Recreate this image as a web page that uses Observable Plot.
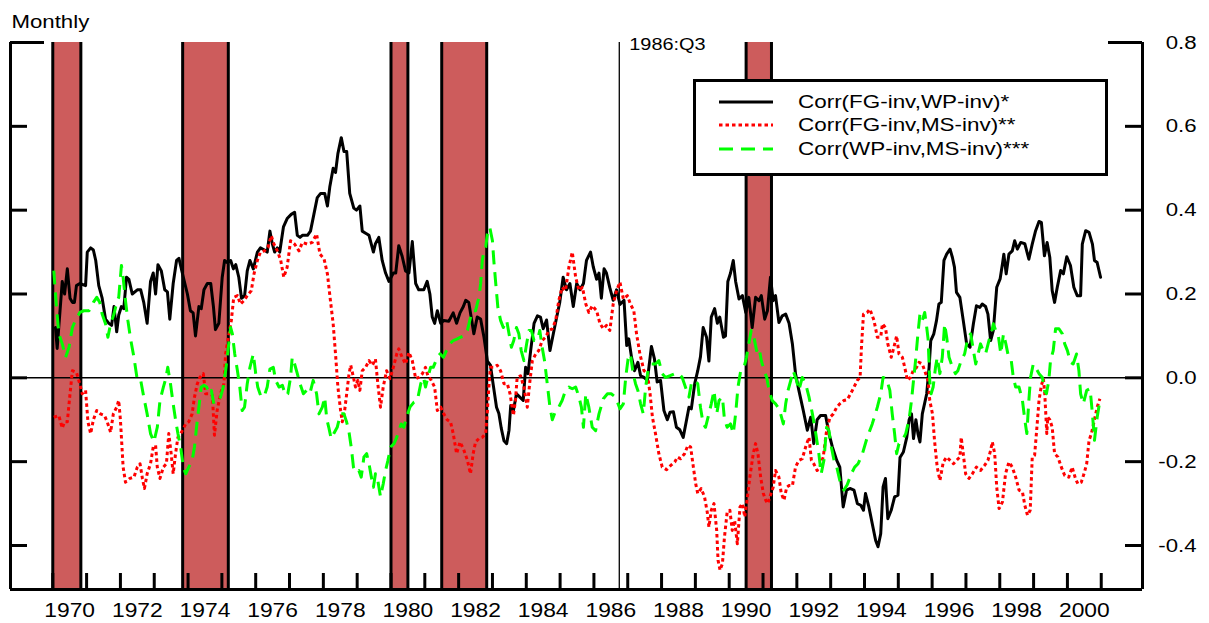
<!DOCTYPE html>
<html>
<head>
<meta charset="utf-8">
<script src="https://cdn.jsdelivr.net/npm/d3@7"></script>
<script src="https://cdn.jsdelivr.net/npm/@observablehq/plot@0.6"></script>
<style>
  body { margin: 0; background: #fff; }
  #wrap { position: relative; width: 1209px; height: 623px; font-family: "Liberation Sans", Arial, sans-serif; }
  #legend { position: absolute; left: 693px; top: 79px; width: 415px; height: 97px; border: 3px solid #000; background: #fff; box-sizing: border-box; }
  .row { position: absolute; left: 0; height: 24px; width: 100%; }
  .row svg { position: absolute; left: 23px; top: 0; }
  .row span { position: absolute; left: 102px; top: 0; font-size: 19px; line-height: 24px; transform: scaleX(1.18); transform-origin: left center; white-space: nowrap; }
</style>
</head>
<body>
<div id="wrap"></div>
<script>
// ---- data ----
const xDomain = [1968.75, 2002.22];
const yDomain = [-0.505, 0.8];
const yTickValues = [-0.4, -0.2, 0.0, 0.2, 0.4, 0.6];
const yTopTick = [0.8];
const yLabelValues = [-0.4, -0.2, 0.0, 0.2, 0.4, 0.6, 0.8];
const yearTicks = d3.range(1970, 2002);
const yearLabels = [1970,1972,1974,1976,1978,1980,1982,1984,1986,1988,1990,1992,1994,1996,1998,2000];
const recessionStart = [1970.0, 1973.84, 1980.0, 1981.5, 1990.5];
const recessionEnd   = [1970.83, 1975.19, 1980.5, 1982.83, 1991.25];
const breakDate = [1986.75];
const breakLabel = "1986:Q3";
const seriesNames = ["Corr(FG-inv,WP-inv)*", "Corr(FG-inv,MS-inv)**", "Corr(WP-inv,MS-inv)***"];

const fgWp = [[1970.08,0.12],[1970.13,0.07],[1970.28,0.23],[1970.35,0.20],[1970.43,0.26],[1970.51,0.19],[1970.58,0.18],[1970.64,0.18],[1970.70,0.22],[1970.80,0.225],[1970.97,0.22],[1971.02,0.30],[1971.12,0.31],[1971.20,0.305],[1971.27,0.28],[1971.36,0.22],[1971.46,0.19],[1971.56,0.14],[1971.66,0.13],[1971.74,0.125],[1971.81,0.17],[1971.89,0.11],[1971.95,0.15],[1972.03,0.17],[1972.10,0.165],[1972.18,0.24],[1972.25,0.235],[1972.35,0.20],[1972.50,0.21],[1972.60,0.21],[1972.69,0.18],[1972.79,0.13],[1972.89,0.23],[1972.97,0.25],[1973.04,0.20],[1973.11,0.27],[1973.21,0.255],[1973.31,0.21],[1973.39,0.205],[1973.46,0.14],[1973.56,0.225],[1973.66,0.28],[1973.73,0.285],[1973.83,0.25],[1973.98,0.20],[1974.07,0.16],[1974.15,0.155],[1974.22,0.10],[1974.32,0.17],[1974.39,0.165],[1974.47,0.21],[1974.57,0.225],[1974.67,0.225],[1974.75,0.17],[1974.81,0.115],[1974.91,0.13],[1975.01,0.24],[1975.08,0.28],[1975.16,0.275],[1975.26,0.28],[1975.34,0.26],[1975.41,0.27],[1975.50,0.24],[1975.58,0.19],[1975.67,0.195],[1975.75,0.255],[1975.83,0.28],[1975.93,0.26],[1976.05,0.30],[1976.14,0.31],[1976.26,0.305],[1976.34,0.30],[1976.42,0.35],[1976.49,0.32],[1976.56,0.30],[1976.64,0.31],[1976.71,0.30],[1976.82,0.36],[1976.93,0.38],[1977.05,0.39],[1977.15,0.395],[1977.23,0.34],[1977.31,0.335],[1977.38,0.34],[1977.53,0.34],[1977.62,0.35],[1977.72,0.39],[1977.82,0.43],[1977.92,0.44],[1978.04,0.44],[1978.12,0.41],[1978.19,0.455],[1978.29,0.50],[1978.36,0.49],[1978.43,0.535],[1978.53,0.573],[1978.61,0.54],[1978.69,0.54],[1978.78,0.44],[1978.90,0.405],[1978.98,0.40],[1979.08,0.41],[1979.15,0.35],[1979.25,0.345],[1979.35,0.34],[1979.48,0.30],[1979.54,0.32],[1979.64,0.335],[1979.74,0.28],[1979.84,0.25],[1979.94,0.23],[1980.07,0.25],[1980.14,0.25],[1980.23,0.315],[1980.33,0.29],[1980.43,0.255],[1980.53,0.25],[1980.63,0.325],[1980.73,0.225],[1980.82,0.21],[1980.97,0.21],[1981.07,0.23],[1981.15,0.20],[1981.22,0.145],[1981.29,0.13],[1981.37,0.16],[1981.47,0.13],[1981.56,0.137],[1981.71,0.135],[1981.84,0.155],[1981.94,0.13],[1982.04,0.155],[1982.14,0.17],[1982.21,0.185],[1982.30,0.18],[1982.40,0.13],[1982.45,0.105],[1982.55,0.145],[1982.65,0.14],[1982.75,0.097],[1982.85,0.04],[1982.94,0.03],[1983.02,-0.015],[1983.12,-0.07],[1983.19,-0.085],[1983.26,-0.12],[1983.34,-0.15],[1983.42,-0.157],[1983.49,-0.125],[1983.54,-0.066],[1983.62,-0.078],[1983.71,-0.038],[1983.81,-0.046],[1983.91,-0.054],[1983.98,0.025],[1984.05,0.01],[1984.13,0.065],[1984.23,0.13],[1984.33,0.148],[1984.42,0.145],[1984.50,0.117],[1984.60,0.138],[1984.70,0.065],[1984.80,0.105],[1984.90,0.145],[1984.99,0.18],[1985.09,0.24],[1985.19,0.21],[1985.29,0.225],[1985.39,0.17],[1985.49,0.225],[1985.59,0.21],[1985.69,0.225],[1985.78,0.28],[1985.90,0.30],[1985.98,0.265],[1986.08,0.235],[1986.15,0.25],[1986.22,0.19],[1986.30,0.26],[1986.37,0.25],[1986.47,0.215],[1986.57,0.185],[1986.67,0.21],[1986.77,0.175],[1986.89,0.185],[1986.97,0.077],[1987.03,0.093],[1987.11,0.05],[1987.20,0.017],[1987.30,0.037],[1987.38,0.005],[1987.48,0.001],[1987.58,-0.006],[1987.70,0.075],[1987.79,0.045],[1987.87,-0.01],[1987.97,-0.006],[1988.07,-0.078],[1988.17,-0.10],[1988.25,-0.082],[1988.35,-0.081],[1988.44,-0.118],[1988.54,-0.124],[1988.64,-0.142],[1988.74,-0.10],[1988.81,-0.07],[1988.88,-0.074],[1988.98,-0.014],[1989.07,0.017],[1989.15,0.05],[1989.23,0.12],[1989.33,0.097],[1989.40,0.04],[1989.47,0.145],[1989.57,0.165],[1989.65,0.13],[1989.72,0.145],[1989.83,0.097],[1989.89,0.10],[1989.96,0.23],[1990.04,0.25],[1990.12,0.28],[1990.19,0.23],[1990.29,0.188],[1990.39,0.196],[1990.49,0.156],[1990.58,0.192],[1990.68,0.12],[1990.78,0.192],[1990.88,0.184],[1990.95,0.196],[1991.05,0.14],[1991.13,0.16],[1991.22,0.24],[1991.30,0.184],[1991.37,0.196],[1991.47,0.132],[1991.57,0.148],[1991.67,0.152],[1991.77,0.13],[1991.87,0.08],[1991.96,0.01],[1992.06,-0.03],[1992.19,-0.078],[1992.31,-0.125],[1992.41,-0.094],[1992.50,-0.157],[1992.60,-0.10],[1992.70,-0.09],[1992.85,-0.09],[1992.95,-0.133],[1993.05,-0.165],[1993.18,-0.197],[1993.27,-0.213],[1993.37,-0.308],[1993.47,-0.268],[1993.57,-0.264],[1993.69,-0.268],[1993.79,-0.30],[1993.89,-0.304],[1993.97,-0.316],[1994.03,-0.276],[1994.13,-0.308],[1994.23,-0.348],[1994.33,-0.388],[1994.40,-0.403],[1994.48,-0.372],[1994.55,-0.26],[1994.62,-0.24],[1994.69,-0.336],[1994.79,-0.316],[1994.89,-0.284],[1994.99,-0.28],[1995.05,-0.19],[1995.15,-0.177],[1995.25,-0.142],[1995.32,-0.10],[1995.39,-0.086],[1995.45,-0.145],[1995.52,-0.10],[1995.58,-0.133],[1995.64,-0.153],[1995.71,-0.086],[1995.84,-0.038],[1995.91,0.025],[1995.96,0.089],[1996.05,0.105],[1996.13,0.137],[1996.20,0.176],[1996.27,0.18],[1996.35,0.28],[1996.43,0.295],[1996.53,0.307],[1996.60,0.287],[1996.66,0.264],[1996.72,0.204],[1996.82,0.192],[1996.92,0.137],[1997.02,0.081],[1997.12,0.073],[1997.22,0.129],[1997.31,0.172],[1997.41,0.168],[1997.48,0.176],[1997.58,0.17],[1997.65,0.152],[1997.73,0.089],[1997.81,0.113],[1997.91,0.216],[1998.01,0.236],[1998.08,0.272],[1998.12,0.295],[1998.19,0.248],[1998.27,0.295],[1998.37,0.303],[1998.44,0.327],[1998.52,0.307],[1998.62,0.323],[1998.74,0.32],[1998.86,0.283],[1998.96,0.319],[1999.06,0.351],[1999.16,0.373],[1999.23,0.371],[1999.32,0.291],[1999.40,0.323],[1999.48,0.287],[1999.55,0.208],[1999.62,0.18],[1999.70,0.216],[1999.80,0.256],[1999.88,0.248],[1999.98,0.289],[2000.09,0.268],[2000.19,0.216],[2000.29,0.196],[2000.39,0.196],[2000.44,0.319],[2000.54,0.351],[2000.64,0.347],[2000.74,0.319],[2000.80,0.28],[2000.88,0.275],[2000.98,0.24]];

const fgMs = [[1970.03,-0.094],[1970.18,-0.09],[1970.28,-0.12],[1970.35,-0.105],[1970.43,-0.105],[1970.51,-0.038],[1970.58,0.017],[1970.70,0.013],[1970.80,-0.015],[1970.87,-0.038],[1970.97,-0.03],[1971.04,-0.105],[1971.12,-0.133],[1971.20,-0.10],[1971.30,-0.078],[1971.41,-0.086],[1971.53,-0.09],[1971.61,-0.105],[1971.71,-0.13],[1971.79,-0.086],[1971.89,-0.07],[1971.95,-0.054],[1972.00,-0.10],[1972.08,-0.213],[1972.15,-0.249],[1972.28,-0.24],[1972.40,-0.237],[1972.50,-0.213],[1972.58,-0.205],[1972.65,-0.24],[1972.71,-0.264],[1972.79,-0.229],[1972.89,-0.205],[1972.97,-0.165],[1973.04,-0.161],[1973.09,-0.213],[1973.17,-0.24],[1973.27,-0.213],[1973.36,-0.205],[1973.43,-0.133],[1973.50,-0.181],[1973.56,-0.229],[1973.63,-0.181],[1973.70,-0.142],[1973.76,-0.137],[1973.83,-0.126],[1973.93,-0.11],[1974.02,-0.105],[1974.12,-0.086],[1974.19,-0.046],[1974.27,-0.015],[1974.35,0.001],[1974.45,0.01],[1974.52,-0.038],[1974.62,-0.038],[1974.72,-0.042],[1974.78,-0.137],[1974.86,-0.078],[1974.96,-0.038],[1975.06,-0.014],[1975.11,0.057],[1975.21,0.105],[1975.28,0.137],[1975.35,0.192],[1975.46,0.196],[1975.55,0.176],[1975.65,0.184],[1975.75,0.196],[1975.87,0.208],[1975.95,0.248],[1976.05,0.28],[1976.14,0.30],[1976.26,0.303],[1976.36,0.311],[1976.46,0.339],[1976.54,0.319],[1976.64,0.303],[1976.74,0.28],[1976.83,0.24],[1976.93,0.264],[1977.03,0.327],[1977.15,0.319],[1977.28,0.303],[1977.38,0.323],[1977.53,0.319],[1977.67,0.323],[1977.80,0.343],[1977.90,0.295],[1978.02,0.284],[1978.12,0.248],[1978.21,0.184],[1978.29,0.129],[1978.36,0.057],[1978.43,-0.022],[1978.51,-0.078],[1978.56,-0.105],[1978.63,-0.078],[1978.69,-0.038],[1978.76,0.01],[1978.81,0.03],[1978.89,0.001],[1978.95,-0.022],[1979.02,-0.006],[1979.08,-0.03],[1979.15,0.017],[1979.25,0.025],[1979.35,0.041],[1979.45,0.03],[1979.54,0.045],[1979.61,-0.014],[1979.69,-0.07],[1979.77,-0.022],[1979.87,0.017],[1979.97,-0.002],[1980.07,0.025],[1980.17,0.057],[1980.23,0.069],[1980.33,0.049],[1980.43,0.033],[1980.53,0.061],[1980.63,0.041],[1980.73,-0.002],[1980.82,0.001],[1980.93,0.01],[1981.02,0.025],[1981.09,0.005],[1981.19,-0.006],[1981.29,-0.022],[1981.37,-0.078],[1981.47,-0.07],[1981.56,-0.086],[1981.66,-0.10],[1981.76,-0.105],[1981.84,-0.133],[1981.94,-0.181],[1982.04,-0.153],[1982.14,-0.169],[1982.26,-0.197],[1982.35,-0.229],[1982.43,-0.181],[1982.50,-0.153],[1982.60,-0.145],[1982.70,-0.142],[1982.80,-0.133],[1982.85,-0.078],[1982.90,-0.014],[1982.94,0.025],[1983.04,0.025],[1983.14,0.03],[1983.24,0.017],[1983.34,-0.014],[1983.44,-0.014],[1983.52,-0.038],[1983.62,-0.09],[1983.68,-0.054],[1983.73,0.001],[1983.83,0.005],[1983.93,-0.022],[1984.03,-0.07],[1984.11,-0.006],[1984.18,0.041],[1984.28,0.057],[1984.37,0.065],[1984.47,0.089],[1984.57,0.097],[1984.67,0.113],[1984.77,0.117],[1984.87,0.137],[1984.96,0.184],[1985.06,0.216],[1985.16,0.208],[1985.26,0.264],[1985.36,0.30],[1985.46,0.24],[1985.56,0.208],[1985.66,0.216],[1985.76,0.176],[1985.85,0.156],[1985.95,0.172],[1986.08,0.16],[1986.18,0.129],[1986.28,0.117],[1986.37,0.125],[1986.47,0.113],[1986.57,0.176],[1986.67,0.208],[1986.77,0.228],[1986.87,0.188],[1986.99,0.196],[1987.08,0.176],[1987.18,0.16],[1987.26,0.105],[1987.36,0.057],[1987.48,0.017],[1987.58,0.01],[1987.66,-0.038],[1987.73,-0.094],[1987.82,-0.133],[1987.92,-0.181],[1988.02,-0.213],[1988.15,-0.219],[1988.27,-0.209],[1988.39,-0.201],[1988.47,-0.189],[1988.56,-0.193],[1988.68,-0.181],[1988.78,-0.161],[1988.86,-0.165],[1988.94,-0.213],[1989.01,-0.253],[1989.07,-0.276],[1989.17,-0.264],[1989.27,-0.284],[1989.35,-0.32],[1989.40,-0.356],[1989.47,-0.316],[1989.55,-0.30],[1989.63,-0.364],[1989.67,-0.435],[1989.73,-0.459],[1989.80,-0.443],[1989.86,-0.38],[1989.94,-0.32],[1990.02,-0.316],[1990.09,-0.364],[1990.16,-0.34],[1990.24,-0.396],[1990.32,-0.308],[1990.39,-0.30],[1990.46,-0.332],[1990.54,-0.284],[1990.61,-0.237],[1990.71,-0.181],[1990.78,-0.157],[1990.85,-0.181],[1990.93,-0.237],[1991.01,-0.276],[1991.08,-0.292],[1991.14,-0.30],[1991.22,-0.28],[1991.30,-0.261],[1991.37,-0.221],[1991.47,-0.237],[1991.54,-0.276],[1991.62,-0.292],[1991.70,-0.261],[1991.77,-0.257],[1991.87,-0.257],[1991.96,-0.213],[1992.06,-0.197],[1992.16,-0.193],[1992.26,-0.165],[1992.36,-0.142],[1992.43,-0.197],[1992.50,-0.205],[1992.60,-0.221],[1992.68,-0.213],[1992.78,-0.189],[1992.88,-0.126],[1992.98,-0.094],[1993.08,-0.086],[1993.18,-0.07],[1993.27,-0.062],[1993.39,-0.054],[1993.49,-0.052],[1993.59,-0.038],[1993.69,-0.022],[1993.79,-0.006],[1993.87,0.001],[1993.91,0.073],[1993.97,0.152],[1994.08,0.156],[1994.16,0.164],[1994.28,0.137],[1994.38,0.097],[1994.48,0.097],[1994.53,0.129],[1994.62,0.12],[1994.69,0.081],[1994.79,0.049],[1994.87,0.073],[1994.95,0.10],[1995.02,0.057],[1995.12,0.049],[1995.19,0.025],[1995.27,-0.006],[1995.36,0.001],[1995.44,0.017],[1995.54,0.025],[1995.61,0.037],[1995.71,0.033],[1995.81,0.01],[1995.88,-0.006],[1995.93,-0.054],[1996.01,-0.086],[1996.07,-0.149],[1996.15,-0.213],[1996.23,-0.245],[1996.33,-0.201],[1996.43,-0.189],[1996.53,-0.197],[1996.63,-0.205],[1996.72,-0.197],[1996.82,-0.189],[1996.86,-0.142],[1996.92,-0.181],[1996.99,-0.229],[1997.09,-0.24],[1997.19,-0.229],[1997.31,-0.213],[1997.43,-0.221],[1997.55,-0.209],[1997.65,-0.197],[1997.73,-0.173],[1997.78,-0.153],[1997.85,-0.181],[1997.91,-0.261],[1997.98,-0.312],[1998.08,-0.296],[1998.17,-0.229],[1998.27,-0.201],[1998.37,-0.213],[1998.47,-0.237],[1998.57,-0.268],[1998.67,-0.272],[1998.74,-0.304],[1998.82,-0.328],[1998.90,-0.316],[1998.96,-0.189],[1999.03,-0.185],[1999.09,-0.126],[1999.16,-0.054],[1999.23,-0.018],[1999.29,-0.002],[1999.33,-0.038],[1999.39,-0.133],[1999.42,-0.094],[1999.48,-0.10],[1999.55,-0.118],[1999.62,-0.181],[1999.72,-0.189],[1999.82,-0.213],[1999.92,-0.233],[2000.04,-0.237],[2000.14,-0.213],[2000.24,-0.241],[2000.31,-0.253],[2000.41,-0.249],[2000.49,-0.229],[2000.57,-0.205],[2000.64,-0.149],[2000.71,-0.133],[2000.80,-0.10],[2000.88,-0.07],[2000.96,-0.05]];

const wpMs = [[1970.03,0.256],[1970.11,0.168],[1970.18,0.105],[1970.28,0.081],[1970.38,0.049],[1970.48,0.073],[1970.58,0.12],[1970.67,0.137],[1970.80,0.156],[1970.92,0.16],[1971.07,0.16],[1971.20,0.18],[1971.30,0.192],[1971.39,0.18],[1971.46,0.152],[1971.56,0.129],[1971.63,0.097],[1971.71,0.129],[1971.81,0.152],[1971.89,0.18],[1971.95,0.192],[1972.03,0.268],[1972.08,0.24],[1972.15,0.184],[1972.22,0.137],[1972.30,0.093],[1972.40,0.049],[1972.50,-0.006],[1972.60,-0.006],[1972.69,-0.046],[1972.79,-0.086],[1972.89,-0.133],[1972.99,-0.153],[1973.09,-0.118],[1973.17,-0.054],[1973.27,-0.022],[1973.34,-0.002],[1973.40,0.025],[1973.48,-0.014],[1973.56,-0.062],[1973.63,-0.10],[1973.70,-0.133],[1973.78,-0.165],[1973.86,-0.213],[1973.93,-0.229],[1974.02,-0.213],[1974.12,-0.197],[1974.19,-0.165],[1974.25,-0.118],[1974.32,-0.07],[1974.39,-0.022],[1974.47,-0.018],[1974.55,-0.022],[1974.62,-0.038],[1974.69,-0.03],[1974.76,-0.062],[1974.86,-0.054],[1974.96,-0.046],[1975.04,-0.022],[1975.11,0.017],[1975.18,0.065],[1975.26,0.12],[1975.31,0.105],[1975.38,0.057],[1975.46,0.017],[1975.53,-0.022],[1975.60,-0.078],[1975.67,-0.07],[1975.75,-0.014],[1975.83,0.025],[1975.93,0.057],[1976.00,0.01],[1976.06,-0.022],[1976.16,-0.046],[1976.26,-0.042],[1976.34,-0.022],[1976.42,0.021],[1976.52,0.025],[1976.59,-0.006],[1976.69,-0.022],[1976.79,-0.018],[1976.88,-0.042],[1976.95,-0.038],[1977.03,0.001],[1977.08,0.049],[1977.15,0.033],[1977.23,0.01],[1977.31,-0.014],[1977.41,-0.038],[1977.50,-0.03],[1977.60,-0.038],[1977.70,-0.006],[1977.80,-0.038],[1977.87,-0.086],[1977.97,-0.07],[1978.04,-0.046],[1978.10,-0.098],[1978.16,-0.118],[1978.23,-0.145],[1978.31,-0.133],[1978.41,-0.118],[1978.51,-0.086],[1978.61,-0.086],[1978.69,-0.106],[1978.76,-0.13],[1978.83,-0.169],[1978.89,-0.213],[1978.95,-0.225],[1979.05,-0.221],[1979.12,-0.237],[1979.20,-0.189],[1979.28,-0.181],[1979.35,-0.205],[1979.42,-0.237],[1979.48,-0.261],[1979.54,-0.229],[1979.61,-0.245],[1979.69,-0.284],[1979.77,-0.253],[1979.84,-0.221],[1979.91,-0.197],[1979.99,-0.165],[1980.09,-0.157],[1980.17,-0.142],[1980.23,-0.126],[1980.30,-0.11],[1980.38,-0.118],[1980.46,-0.094],[1980.56,-0.07],[1980.68,-0.058],[1980.78,-0.054],[1980.88,-0.014],[1980.96,0.001],[1981.02,-0.022],[1981.09,0.001],[1981.17,0.025],[1981.25,0.025],[1981.35,0.045],[1981.45,0.057],[1981.55,0.049],[1981.64,0.065],[1981.74,0.081],[1981.84,0.089],[1981.96,0.093],[1982.06,0.097],[1982.16,0.10],[1982.26,0.113],[1982.33,0.137],[1982.40,0.16],[1982.50,0.16],[1982.60,0.192],[1982.65,0.224],[1982.70,0.28],[1982.75,0.303],[1982.80,0.311],[1982.85,0.343],[1982.92,0.359],[1983.00,0.327],[1983.04,0.28],[1983.09,0.232],[1983.16,0.168],[1983.24,0.137],[1983.32,0.12],[1983.42,0.137],[1983.49,0.105],[1983.56,0.073],[1983.63,0.089],[1983.71,0.12],[1983.78,0.105],[1983.85,0.065],[1983.93,0.041],[1984.01,0.081],[1984.08,0.113],[1984.15,0.113],[1984.23,0.089],[1984.33,0.089],[1984.40,0.113],[1984.47,0.073],[1984.54,0.041],[1984.62,-0.014],[1984.70,-0.07],[1984.77,-0.10],[1984.87,-0.078],[1984.96,-0.07],[1985.06,-0.054],[1985.16,-0.03],[1985.26,-0.022],[1985.36,-0.026],[1985.46,-0.022],[1985.56,-0.046],[1985.63,-0.07],[1985.69,-0.118],[1985.76,-0.038],[1985.85,-0.07],[1985.95,-0.118],[1986.05,-0.126],[1986.15,-0.086],[1986.28,-0.05],[1986.40,-0.038],[1986.51,-0.038],[1986.64,-0.046],[1986.77,-0.074],[1986.87,-0.062],[1986.94,0.001],[1987.01,0.045],[1987.08,0.057],[1987.16,0.01],[1987.23,-0.014],[1987.30,-0.03],[1987.38,-0.062],[1987.46,-0.086],[1987.53,-0.022],[1987.60,0.017],[1987.70,0.033],[1987.82,0.033],[1987.92,0.041],[1988.02,0.01],[1988.12,0.001],[1988.25,0.005],[1988.39,0.01],[1988.51,0.01],[1988.61,0.001],[1988.74,-0.03],[1988.81,-0.046],[1988.88,-0.014],[1988.98,-0.006],[1989.07,-0.014],[1989.15,-0.07],[1989.23,-0.11],[1989.30,-0.118],[1989.40,-0.086],[1989.47,-0.062],[1989.55,-0.03],[1989.63,-0.086],[1989.70,-0.054],[1989.80,-0.046],[1989.86,-0.10],[1989.94,-0.118],[1990.04,-0.11],[1990.12,-0.133],[1990.19,-0.086],[1990.26,-0.022],[1990.34,0.017],[1990.44,0.025],[1990.51,0.049],[1990.58,0.081],[1990.65,0.113],[1990.73,0.097],[1990.81,0.065],[1990.88,0.073],[1990.95,0.041],[1991.03,0.017],[1991.11,0.001],[1991.18,-0.03],[1991.27,-0.054],[1991.37,-0.062],[1991.44,-0.07],[1991.52,-0.086],[1991.60,-0.11],[1991.67,-0.062],[1991.74,-0.03],[1991.82,-0.006],[1991.89,0.017],[1991.99,-0.006],[1992.06,-0.03],[1992.16,0.001],[1992.26,-0.014],[1992.36,-0.046],[1992.46,-0.086],[1992.56,-0.133],[1992.65,-0.181],[1992.72,-0.229],[1992.80,-0.197],[1992.88,-0.118],[1992.95,-0.126],[1993.02,-0.165],[1993.10,-0.197],[1993.18,-0.213],[1993.27,-0.245],[1993.39,-0.268],[1993.49,-0.255],[1993.61,-0.229],[1993.71,-0.213],[1993.81,-0.205],[1993.94,-0.181],[1994.08,-0.142],[1994.23,-0.11],[1994.38,-0.07],[1994.48,-0.038],[1994.55,0.001],[1994.65,-0.002],[1994.75,-0.03],[1994.82,-0.086],[1994.89,-0.133],[1994.95,-0.181],[1995.02,-0.157],[1995.12,-0.149],[1995.22,-0.133],[1995.32,-0.098],[1995.39,-0.054],[1995.45,-0.006],[1995.51,0.041],[1995.58,0.105],[1995.64,0.152],[1995.71,0.137],[1995.78,0.156],[1995.84,0.12],[1995.88,0.093],[1995.93,-0.006],[1995.97,-0.038],[1996.03,-0.022],[1996.10,0.025],[1996.15,0.049],[1996.23,0.01],[1996.30,0.049],[1996.37,0.129],[1996.43,0.097],[1996.50,0.049],[1996.60,0.025],[1996.69,0.01],[1996.76,0.017],[1996.86,0.041],[1996.96,0.057],[1997.06,0.097],[1997.14,0.105],[1997.22,0.065],[1997.29,0.033],[1997.36,0.057],[1997.43,0.081],[1997.51,0.065],[1997.58,0.057],[1997.68,0.089],[1997.75,0.105],[1997.81,0.129],[1997.88,0.113],[1997.95,0.105],[1998.03,0.057],[1998.11,0.105],[1998.18,0.081],[1998.24,0.057],[1998.34,0.041],[1998.40,0.001],[1998.47,-0.022],[1998.57,-0.022],[1998.67,-0.054],[1998.74,-0.10],[1998.80,-0.133],[1998.86,-0.054],[1998.91,0.001],[1998.99,0.033],[1999.06,0.025],[1999.16,0.01],[1999.26,0.001],[1999.32,-0.03],[1999.38,-0.038],[1999.45,-0.006],[1999.50,0.041],[1999.58,0.065],[1999.65,0.117],[1999.75,0.117],[1999.85,0.105],[1999.92,0.081],[2000.00,0.065],[2000.09,0.037],[2000.17,0.033],[2000.27,0.057],[2000.34,0.017],[2000.39,-0.038],[2000.47,-0.062],[2000.57,-0.03],[2000.67,-0.026],[2000.74,-0.086],[2000.80,-0.149],[2000.88,-0.094],[2000.96,-0.054]];

// ---- chart ----
const recessions = recessionStart.map((s, i) => ({start: s, end: recessionEnd[i]}));
const FONT = "'Liberation Sans', Arial, sans-serif";
const lineX = d => d[0], lineY = d => d[1];
const GREEN = "#00FF00", RED = "#FF0000";

const chart = Plot.plot({
  width: 1209,
  height: 623,
  marginLeft: 10,
  marginRight: 67,
  marginTop: 42,
  marginBottom: 34,
  style: {fontFamily: FONT, background: "#fff"},
  x: {domain: xDomain, axis: null},
  y: {domain: yDomain, axis: null},
  marks: [
    Plot.rect(recessions, {x1: "start", x2: "end", fill: "#CD5C5C"}),
    Plot.ruleX(recessionStart.concat(recessionEnd), {stroke: "#000", strokeWidth: 3}),
    Plot.ruleY([0], {stroke: "#000", strokeWidth: 1.5}),
    Plot.ruleX(breakDate, {stroke: "#000", strokeWidth: 1.3}),
    Plot.line(fgWp, {x: lineX, y: lineY, stroke: "#000", strokeWidth: 3, strokeLinejoin: "round"}),
    Plot.line(fgMs, {x: lineX, y: lineY, stroke: RED, strokeWidth: 3, strokeDasharray: "3.5,3", strokeLinecap: "butt"}),
    Plot.line(wpMs, {x: lineX, y: lineY, stroke: GREEN, strokeWidth: 3, strokeDasharray: "14,8", strokeLinecap: "butt"}),
    // axis lines (left, right, bottom)
    Plot.ruleX([xDomain[0], xDomain[1]], {stroke: "#000", strokeWidth: 3}),
    Plot.ruleY([yDomain[0]], {stroke: "#000", strokeWidth: 3}),
    // y ticks
    Plot.tickY(yTickValues, {y: d => d, stroke: "#000", strokeWidth: 3, insetLeft: 1115}),
    Plot.tickY(yTickValues, {y: d => d, stroke: "#000", strokeWidth: 3, insetRight: 1115}),
    Plot.tickY(yTopTick, {y: d => d, stroke: "#000", strokeWidth: 3, insetLeft: 1098}),
    Plot.tickY(yTopTick, {y: d => d, stroke: "#000", strokeWidth: 3, insetRight: 1098}),
    // x ticks
    Plot.tickX(yearTicks, {x: d => d, stroke: "#000", strokeWidth: 3, insetTop: 531}),
    // labels
    Plot.text(yLabelValues, {y: d => d, text: d => d.toFixed(1), frameAnchor: "right", dx: 54, textAnchor: "end", lineAnchor: "middle", fontSize: 19, fill: "#000", className: "stretch"}),
    Plot.text(yearLabels, {x: d => d + 0.5, text: d => String(d), frameAnchor: "bottom", dy: 21, lineAnchor: "middle", fontSize: 19.5, fill: "#000", className: "stretch"}),
    Plot.text(breakDate, {x: d => d, y: yTopTick[0], text: () => breakLabel, textAnchor: "start", lineAnchor: "bottom", dx: 10, dy: 7, fontSize: 17, fill: "#000", className: "stretch"}),
    Plot.text(["Monthly"], {text: d => d, frameAnchor: "top-left", textAnchor: "start", lineAnchor: "bottom", dx: 1, dy: -15, fontSize: 19, fill: "#000", className: "stretch"})
  ]
});

// horizontal stretch of label glyphs to match the reference's wide lettering
chart.querySelectorAll(".stretch text").forEach(t => {
  const tr = t.getAttribute("transform") || "";
  t.setAttribute("transform", tr + " scale(1.17,1)");
});

const wrap = document.getElementById("wrap");
wrap.appendChild(chart);

// ---- legend ----
const legend = document.createElement("div");
legend.id = "legend";
const styles = [
  {stroke: "#000", dash: null},
  {stroke: RED, dash: "3.5,3"},
  {stroke: GREEN, dash: "14,8"}
];
const rowTops = [8, 31, 55];
seriesNames.forEach((name, i) => {
  const row = document.createElement("div");
  row.className = "row";
  row.style.top = rowTops[i] + "px";
  const s = styles[i];
  row.innerHTML = `<svg width="54" height="24"><line x1="0" x2="54" y1="12" y2="12" stroke="${s.stroke}" stroke-width="3" ${s.dash ? `stroke-dasharray="${s.dash}"` : ""}/></svg><span>${name}</span>`;
  legend.appendChild(row);
});
wrap.appendChild(legend);
</script>
</body>
</html>
